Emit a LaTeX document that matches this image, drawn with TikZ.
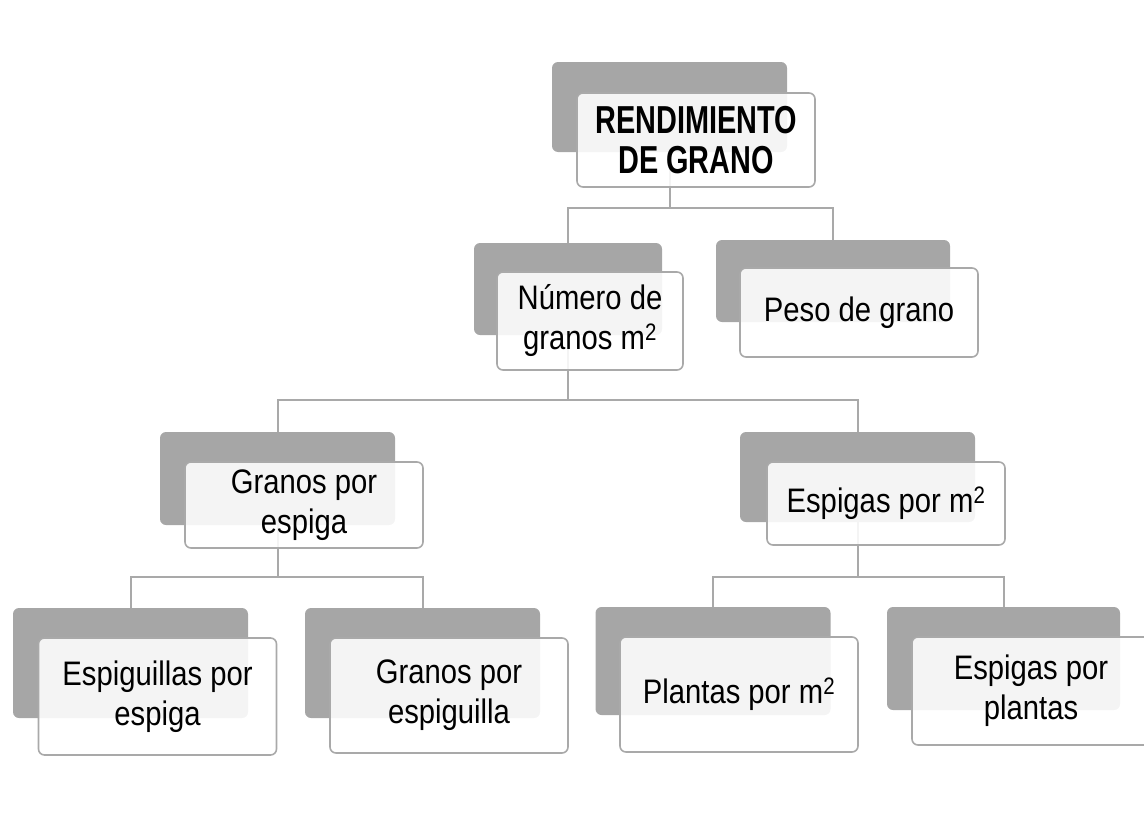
\documentclass[tikz,border=0pt]{standalone}
\usepackage{fontspec}
\setmainfont[FakeStretch=0.86]{Liberation Sans}
\newfontfamily\titulofont[FakeStretch=0.74]{Liberation Sans}
\usetikzlibrary{positioning,backgrounds}
\definecolor{grisfondo}{HTML}{A6A6A6}
\definecolor{grislinea}{HTML}{A9A9A9}
\def\maufondo{grisfondo}
\def\maulinea{grislinea}

\begin{document}
\begin{tikzpicture}[x=1pt,y=-1pt]
		\tikzstyle{fondo} = [fill=\maufondo,rounded corners=6pt,inner sep=0pt,minimum width=235pt]
		\tikzstyle{caja} = [draw=\maulinea,line width=1.6pt,fill=white,fill opacity=.88,text opacity=1,rounded corners=6pt,align=center,inner sep=0pt,minimum width=238pt,font=\fontsize{34}{40}\selectfont]
		\tikzstyle{conector} = [draw=\maulinea,line width=2pt]
		\useasboundingbox (0,0) rectangle (1144,814);
		% nivel 1
		\node[fondo,minimum height=90pt] (rendg) at (669.5,107) {};
		\node[caja,minimum height=94pt,font=\titulofont\bfseries\fontsize{39}{40}\selectfont] (rend) at ([shift={(26.5,33)}]rendg.center) {RENDIMIENTO\\DE GRANO};
		% nivel 2
		\node[fondo,minimum width=188pt,minimum height=92pt] (numg) at (568,289) {};
		\node[caja,minimum width=186pt,minimum height=98pt] (num) at ([shift={(22,32)}]numg.center) {Número de\\granos m\textsuperscript{2}};
		\node[fondo,minimum width=234pt,minimum height=82pt] (pesog) at (833,281) {};
		\node[caja,minimum height=89pt] (peso) at ([shift={(26,31.5)}]pesog.center) {Peso de grano};
		% nivel 3
		\node[fondo,minimum height=93pt] (gpeg) at (277.5,478.5) {};
		\node[caja,minimum height=86pt] (gpe) at ([shift={(26.5,26.5)}]gpeg.center) {Granos por\\espiga};
		\node[fondo,minimum height=90pt] (epmg) at (857.5,477) {};
		\node[caja,minimum height=83pt] (epm) at ([shift={(28.5,26.5)}]epmg.center) {Espigas por m\textsuperscript{2}};
		% nivel 4
		\node[fondo,minimum height=110pt] (espg) at (130.5,663) {};
		\node[caja,minimum height=117pt] (esp) at ([shift={(27,33.5)}]espg.center) {Espiguillas por\\espiga};
		\node[fondo,minimum height=110pt] (gplg) at (422.5,663) {};
		\node[caja,minimum height=115pt] (gpl) at ([shift={(26.5,32.5)}]gplg.center) {Granos por\\espiguilla};
		\node[fondo,minimum height=108pt] (plag) at (713,661) {};
		\node[caja,minimum height=115pt] (pla) at ([shift={(26,33.5)}]plag.center) {Plantas por m\textsuperscript{2}};
		\node[fondo,minimum width=233pt,minimum height=103pt] (eppg) at (1003.5,658.5) {};
		\node[caja,minimum height=108pt] (epp) at ([shift={(27.5,32.5)}]eppg.center) {Espigas por\\plantas};
		% conectores
		\coordinate (b1) at (669.5,208);
		\coordinate (b2) at (568,400);
		\coordinate (b3) at (277.5,577);
		\coordinate (b4) at (857.5,577);
		\begin{scope}[on background layer]
			\draw[conector] (rendg.center) -- (b1) -| (numg.north);
			\draw[conector] (b1) -| (pesog.north);
			\draw[conector] (numg.center) -- (b2) -| (gpeg.north);
			\draw[conector] (b2) -| (epmg.north);
			\draw[conector] (gpeg.center) -- (b3) -| (espg.north);
			\draw[conector] (b3) -| (gplg.north);
			\draw[conector] (epmg.center) -- (b4) -| (plag.north);
			\draw[conector] (b4) -| (eppg.north);
		\end{scope}
\end{tikzpicture}
\end{document}
